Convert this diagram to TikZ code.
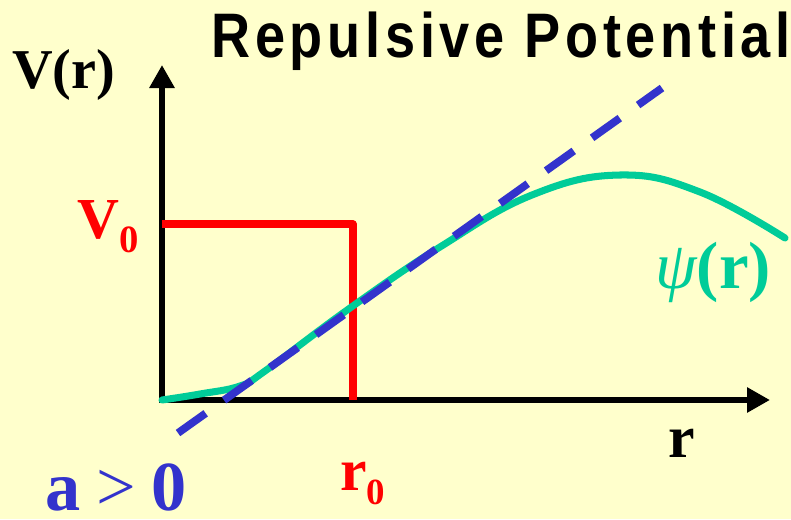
\documentclass[tikz,border=0pt]{standalone}
\usepackage{fontspec}
\setmainfont{Liberation Serif}
\newfontfamily\titlefont{Liberation Sans}[UprightFont={Liberation Sans Bold}, FakeStretch=0.86, LetterSpace=7.5]
\usetikzlibrary{arrows.meta}
\definecolor{cBack}{RGB}{255,255,204}
\definecolor{cWall}{RGB}{255,0,0}
\definecolor{cWave}{RGB}{0,204,153}
\definecolor{cLine}{RGB}{51,51,204}
\tikzset{
	axis/.style={line width=3.6pt, line join=miter, {Triangle[length=0.46cm, width=0.48cm]}-{Triangle[length=0.46cm, width=0.48cm]}},
	wall/.style={line width=4pt, cWall, line join=round},
	asym/.style={line width=4.4pt, cLine, dash pattern=on 0.68cm off 0.45cm},
	wave/.style={line width=4pt, cWave, line cap=round},
	lbl/.style={inner sep=0pt, anchor=base west},
}

\begin{document}
\begin{tikzpicture}
	% background
	\fill[cBack] (-3.24,-2.38) rectangle (12.58,8.0);
	\useasboundingbox (-3.24,-2.38) rectangle (12.58,8.0);
	\coordinate (O) at (0,0);
	\coordinate (ytop) at (0,6.7);
	\coordinate (xend) at (12.16,0);
	% axes
	\draw[axis] (ytop) -- (O) -- (xend);
	% potential step
	\draw[wall] (0,3.52) -- (3.82,3.52) -- (3.82,0);
	% wave function
	\draw[wave] plot[smooth, tension=0.7] coordinates {(0,0) (0.76,0.12) (1.56,0.28) (2.06,0.58) (3.76,1.84) (5.56,3.06) (7.4,4.1) (9.16,4.5) (10.76,4.16) (12.46,3.24)};
	% asymptote
	\draw[asym] (0.32,-0.66) -- (10.0,6.24);
	% labels
	\node[lbl, font=\titlefont\fontsize{35.8}{36}\selectfont] (title) at (0.98,6.86) {Repulsive Potential};
	\node[lbl, font=\fontsize{32}{32}\selectfont\bfseries] (vlab) at (-3.0,6.24) {V(r)};
	\node[lbl, cWall, font=\fontsize{33}{33}\selectfont\bfseries] (vzero) at (-1.7,3.24) {V\raisebox{-8.5pt}{\fontsize{22}{22}\selectfont 0}};
	\node[lbl, cWall, font=\fontsize{34}{34}\selectfont\bfseries] (rzero) at (3.56,-1.8) {r\raisebox{-8.5pt}{\fontsize{21}{21}\selectfont 0}};
	\node[lbl, font=\fontsize{34}{34}\selectfont\bfseries] (rlab) at (10.12,-1.14) {r};
	\node[lbl, cLine, font=\fontsize{40}{40}\selectfont\bfseries] (alab) at (-2.34,-2.2) {a\hspace{9pt}{\mdseries >}\hspace{9pt}0};
	\node[lbl, cWave, font=\fontsize{38}{38}\selectfont\bfseries] (psilab) at (9.86,2.24) {{\mdseries\itshape ψ}(r)};
\end{tikzpicture}
\end{document}
